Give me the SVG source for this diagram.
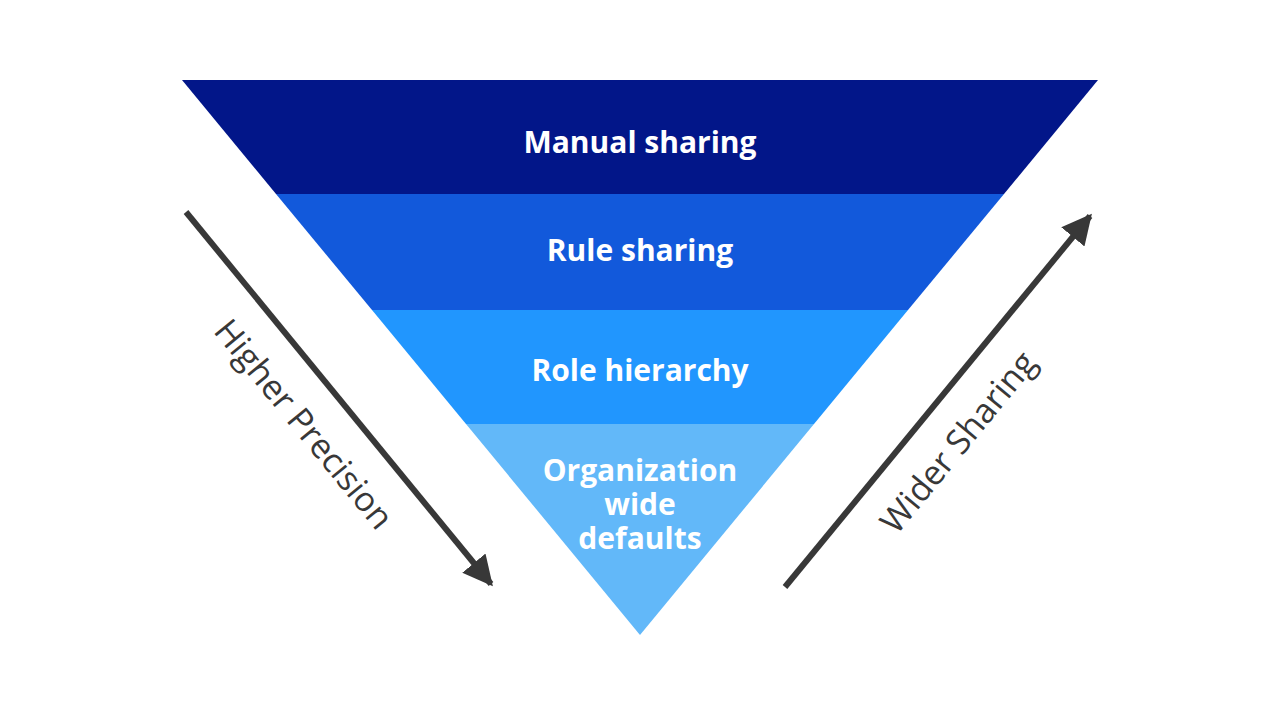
<svg xmlns="http://www.w3.org/2000/svg" width="1280" height="720" viewBox="0 0 1280 720">
  <defs>
    <marker id="ah" viewBox="0 0 10 10" refX="9" refY="5" markerWidth="5" markerHeight="5.4" markerUnits="strokeWidth" orient="auto">
      <path d="M0,0 L10,5 L0,10 z" fill="#383838"/>
    </marker>
    <style>
      .band-label { font-family: "Open Sans", "Noto Sans", sans-serif; font-weight: 700; font-size: 30px; fill: #ffffff; text-anchor: middle; }
      .side-label { font-family: "Open Sans", "Noto Sans", sans-serif; font-weight: 400; font-size: 34px; fill: #383838; text-anchor: middle; }
      .arrow { stroke: #383838; stroke-width: 6; fill: none; marker-end: url(#ah); }
    </style>
  </defs>
  <rect width="1280" height="720" fill="#ffffff"/>

  <g id="band-manual-sharing">
    <polygon points="182,80 1098,80 1004,194 276,194" fill="#021689"/>
    <text class="band-label" x="640" y="153">Manual sharing</text>
  </g>
  <g id="band-rule-sharing">
    <polygon points="276,194 1004,194 908,310 372,310" fill="#1259DB"/>
    <text class="band-label" x="640" y="261">Rule sharing</text>
  </g>
  <g id="band-role-hierarchy">
    <polygon points="372,310 908,310 814,424 466,424" fill="#2196FE"/>
    <text class="band-label" x="640" y="381">Role hierarchy</text>
  </g>
  <g id="band-org-wide-defaults">
    <polygon points="466,424 814,424 640,635" fill="#62B8F9"/>
    <text class="band-label" x="640" y="481">Organization<tspan x="640" dy="34">wide</tspan><tspan x="640" dy="34">defaults</tspan></text>
  </g>

  <g id="connectors">
    <line class="arrow" x1="186" y1="212" x2="491" y2="584"/>
    <line class="arrow" x1="785" y1="587" x2="1090" y2="216"/>
  </g>

  <g id="label-higher-precision">
    <text class="side-label" transform="translate(304,424) rotate(50.6)" y="12">Higher Precision</text>
  </g>
  <g id="label-wider-sharing">
    <text class="side-label" transform="translate(958,442) rotate(-50.6)" y="12">Wider Sharing</text>
  </g>
</svg>
